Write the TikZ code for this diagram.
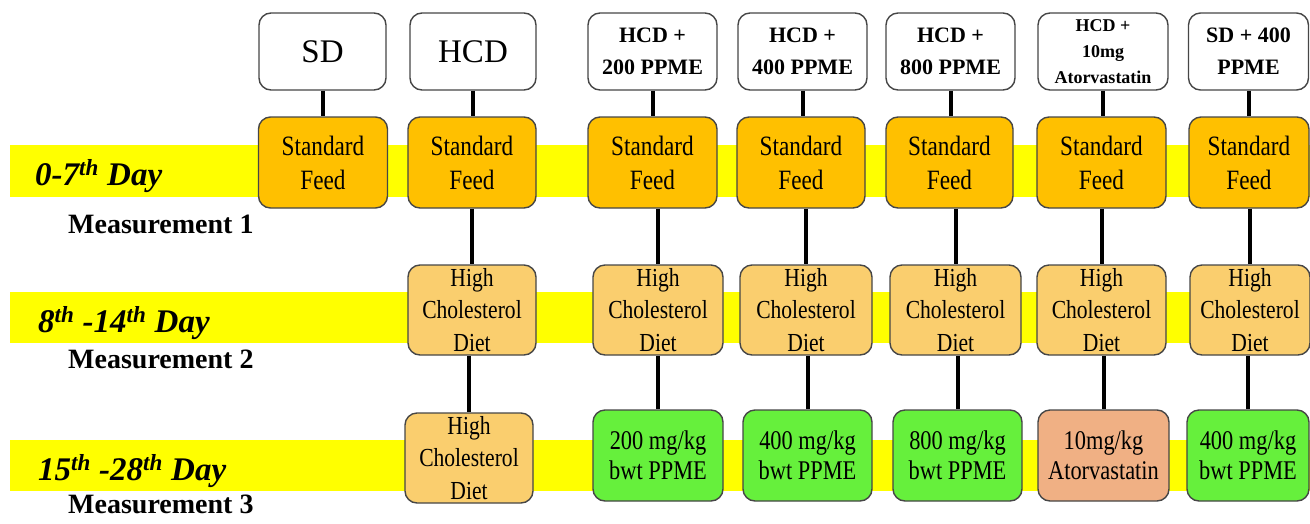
\documentclass[tikz,border=0pt]{standalone}
\usepackage{fontspec}
\setmainfont{Liberation Serif}
\newfontfamily\cond{Liberation Serif}[FakeStretch=0.83]
\definecolor{feed}{RGB}{255,192,0}
\definecolor{hcd}{RGB}{250,206,110}
\definecolor{ppme}{RGB}{102,240,60}
\definecolor{ator}{RGB}{240,176,132}
\definecolor{band}{RGB}{255,255,0}
\definecolor{edge}{RGB}{70,70,70}
\tikzset{
  box/.style={draw=edge, line width=1.4pt, rounded corners=12pt, align=center, inner sep=0pt,
    minimum width=129pt},
  topbox/.style={box, fill=white, minimum height=77pt},
  feedbox/.style={box, fill=feed, minimum height=91pt, font=\cond\fontsize{28}{34}\selectfont},
  hcdbox/.style={box, fill=hcd, minimum height=90pt, font=\cond\fontsize{26}{32.5}\selectfont},
  dosebox/.style={box, minimum height=91pt, font=\cond\fontsize{27}{30}\selectfont},
  toptxt/.style={font=\bfseries\fontsize{22}{32}\selectfont},
  bigtxt/.style={font=\fontsize{33}{36}\selectfont},
  daylab/.style={anchor=base west, inner sep=0pt, font=\bfseries\itshape\fontsize{33}{36}\selectfont},
  meas/.style={anchor=base west, inner sep=0pt, font=\bfseries\fontsize{28}{32}\selectfont},
  link/.style={line width=4pt, black}
}
\begin{document}
\begin{tikzpicture}[x=1pt,y=-1pt]
\useasboundingbox (0,0) rectangle (1310,523);
\clip (0,0) rectangle (1310,523);
% yellow bands
\fill[band] (10,145) rectangle (1310,197);
\fill[band] (10,292) rectangle (1310,343);
\fill[band] (10,440) rectangle (1310,491);
% left labels
\node[daylab] (d1) at (35,185) {0-7\textsuperscript{th} Day};
\node[daylab] (d2) at (38,332) {8\textsuperscript{th} -14\textsuperscript{th} Day};
\node[daylab] (d3) at (38,480) {15\textsuperscript{th} -28\textsuperscript{th} Day};
\node[meas] (m1) at (68,233) {Measurement 1};
\node[meas] (m2) at (68,368) {Measurement 2};
\node[meas] (m3) at (68,513) {Measurement 3};
% top boxes
\node[topbox, bigtxt, minimum width=127pt] (t1) at (322.5,51.5) {SD};
\node[topbox, bigtxt, minimum width=126pt] (t2) at (473,51.5) {HCD};
\node[topbox, toptxt] (t3) at (652.5,51.5) {HCD +\\200 PPME};
\node[topbox, toptxt] (t4) at (802.5,51.5) {HCD +\\400 PPME};
\node[topbox, toptxt] (t5) at (950.5,51.5) {HCD +\\800 PPME};
\node[topbox, font=\bfseries\fontsize{18}{26}\selectfont, minimum width=130pt] (t6) at (1103,51.5) {HCD +\\10mg\\Atorvastatin};
\node[topbox, toptxt, minimum width=120pt] (t7) at (1248.5,51.5) {SD + 400\\PPME};
% row 1
\node[feedbox] (a1) at (323,162.5) {Standard\\Feed};
\node[feedbox, minimum width=128pt] (a2) at (472,162.5) {Standard\\Feed};
\node[feedbox] (a3) at (652.5,162.5) {Standard\\Feed};
\node[feedbox, minimum width=128pt] (a4) at (801,162.5) {Standard\\Feed};
\node[feedbox, minimum width=127pt] (a5) at (949.5,162.5) {Standard\\Feed};
\node[feedbox] (a6) at (1101.5,162.5) {Standard\\Feed};
\node[feedbox, minimum width=120pt] (a7) at (1249,162.5) {Standard\\Feed};
% row 2
\node[hcdbox, minimum width=128pt] (b2) at (472,310) {High\\Cholesterol\\Diet};
\node[hcdbox, minimum width=130pt] (b3) at (658,310) {High\\Cholesterol\\Diet};
\node[hcdbox, minimum width=132pt] (b4) at (806,310) {High\\Cholesterol\\Diet};
\node[hcdbox, minimum width=131pt] (b5) at (955.5,310) {High\\Cholesterol\\Diet};
\node[hcdbox] (b6) at (1101.5,310) {High\\Cholesterol\\Diet};
\node[hcdbox, minimum width=120pt] (b7) at (1250,310) {High\\Cholesterol\\Diet};
% row 3
\node[hcdbox, minimum width=128pt] (c2) at (469,458) {High\\Cholesterol\\Diet};
\node[dosebox, fill=ppme, minimum width=130pt] (c3) at (658,455.5) {200 mg/kg\\bwt PPME};
\node[dosebox, fill=ppme] (c4) at (807.5,455.5) {400 mg/kg\\bwt PPME};
\node[dosebox, fill=ppme] (c5) at (957.5,455.5) {800 mg/kg\\bwt PPME};
\node[dosebox, fill=ator, minimum width=131pt] (c6) at (1103.5,455.5) {10mg/kg\\Atorvastatin};
\node[dosebox, fill=ppme, minimum width=122pt] (c7) at (1248,455.5) {400 mg/kg\\bwt PPME};
% connectors
\foreach \i in {1,...,7} {\draw[link] (t\i.south) -- (t\i.south |- a\i.north);}
\foreach \i in {2,...,7} {
  \draw[link] (a\i.south -| b\i.north) -- (b\i.north);
  \draw[link] (b\i.south -| c\i.north) -- (c\i.north);
}
\end{tikzpicture}
\end{document}
